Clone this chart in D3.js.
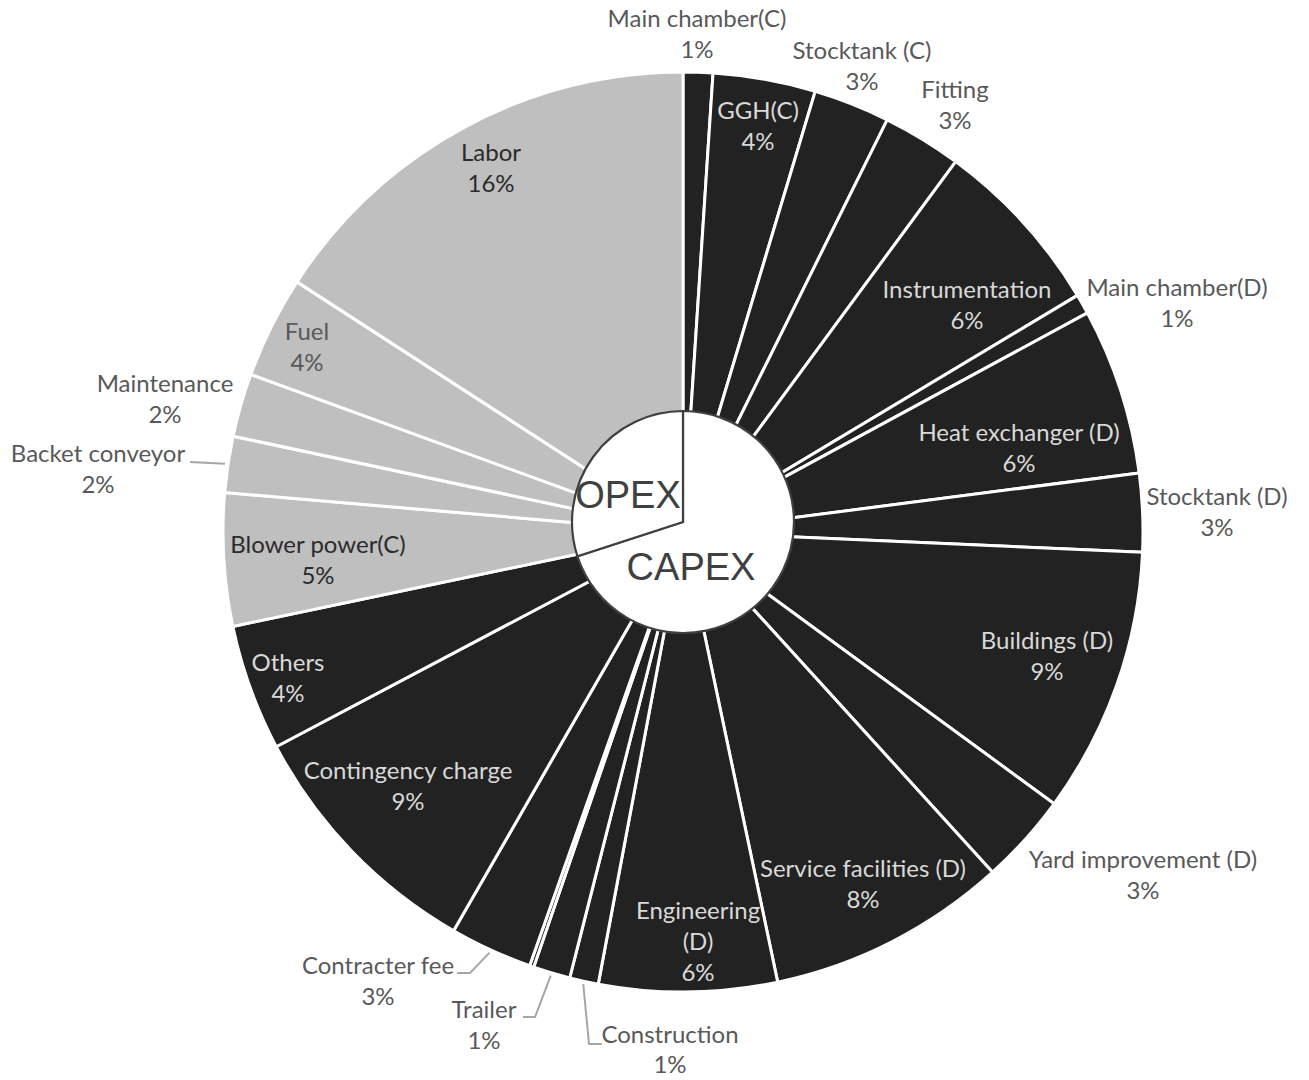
<!DOCTYPE html>
<html>
<head>
<meta charset="utf-8">
<script src="https://cdn.jsdelivr.net/npm/d3@7"></script>
<style>
  html, body { margin: 0; background: #ffffff; }
  svg { display: block; }
</style>
</head>
<body>
<svg id="chart" width="1309" height="1080"></svg>
<script>
// Cost items, clockwise from 12 o'clock (shares in % of total cost)
const categories = [
  "Main chamber(C)", "GGH(C)", "Stocktank (C)", "Fitting", "Instrumentation",
  "Main chamber(D)", "Heat exchanger (D)", "Stocktank (D)", "Buildings (D)",
  "Yard improvement (D)", "Service facilities (D)", "Engineering (D)",
  "Construction", "Trailer", "", "Contracter fee", "Contingency charge", "Others",
  "Blower power(C)", "Backet conveyor", "Maintenance", "Fuel", "Labor"
];
const shares = [
  1.04, 3.6, 2.68, 2.78, 6.3,
  0.7, 5.85, 2.75, 9.36,
  3.19, 8.45, 6.25,
  1.01, 1.3, 0.15, 2.9, 8.96, 4.44,
  4.66, 1.97, 2.22, 3.59, 15.85
];
const costGroups = [
  "CAPEX", "CAPEX", "CAPEX", "CAPEX", "CAPEX",
  "CAPEX", "CAPEX", "CAPEX", "CAPEX",
  "CAPEX", "CAPEX", "CAPEX",
  "CAPEX", "CAPEX", "CAPEX", "CAPEX", "CAPEX", "CAPEX",
  "OPEX", "OPEX", "OPEX", "OPEX", "OPEX"
];

// Inner pie: split between capital and operating expenditure (%)
const groupNames = ["CAPEX", "OPEX"];
const groupShares = [70, 30];

// ---- layout -------------------------------------------------------------
const cx = 683, cy = 532, outerR = 460;      // outer pie
const icx = 683, icy = 522, innerR = 111;    // inner pie
const lineH = 31;

const groupFill = { CAPEX: "#222222", OPEX: "#bfbfbf" };
const toneColor = { inDark: "#d9d9d9", inLight: "#2b2b2b", out: "#595959" };

// label block anchor: centre x and first baseline, relative to the pie centre
const labelLayout = {
  "Main chamber(C)":       { dx: 14,   dy: -505, tone: "out" },
  "GGH(C)":                { dx: 75,   dy: -413, tone: "inDark" },
  "Stocktank (C)":         { dx: 179,  dy: -473, tone: "out" },
  "Fitting":               { dx: 272,  dy: -434, tone: "out" },
  "Instrumentation":       { dx: 284,  dy: -234, tone: "inDark" },
  "Main chamber(D)":       { dx: 494,  dy: -236, tone: "out" },
  "Heat exchanger (D)":    { dx: 336,  dy: -91,  tone: "inDark" },
  "Stocktank (D)":         { dx: 534,  dy: -27,  tone: "out" },
  "Buildings (D)":         { dx: 364,  dy: 117,  tone: "inDark" },
  "Yard improvement (D)":  { dx: 460,  dy: 336,  tone: "out" },
  "Service facilities (D)":{ dx: 180,  dy: 345,  tone: "inDark" },
  "Engineering (D)":       { dx: 15,   dy: 387,  tone: "inDark", lines: ["Engineering", "(D)"] },
  "Construction":          { dx: -13,  dy: 511,  tone: "out", leader: [[-94, 512], [-81, 512]], lineH: 30 },
  "Trailer":               { dx: -199, dy: 486,  tone: "out", leader: [[-148, 485], [-160, 485]] },
  "Contracter fee":        { dx: -305, dy: 442,  tone: "out", leader: [[-213, 441], [-226, 441]] },
  "Contingency charge":    { dx: -275, dy: 247,  tone: "inDark" },
  "Others":                { dx: -395, dy: 139,  tone: "inDark" },
  "Blower power(C)":       { dx: -365, dy: 21,   tone: "inLight" },
  "Backet conveyor":       { dx: -585, dy: -70,  tone: "out", leader: [[-493, -70]] },
  "Maintenance":           { dx: -518, dy: -140, tone: "out" },
  "Fuel":                  { dx: -376, dy: -192, tone: "out" },
  "Labor":                 { dx: -192, dy: -371, tone: "inLight" }
};

const groupLabelLayout = {
  CAPEX: { dx: 8,   dy: 58 },
  OPEX:  { dx: -55, dy: -14 }
};

// ---- data ---------------------------------------------------------------
const items = categories.map((name, i) => ({ name, value: shares[i], group: costGroups[i] }));
const total = d3.sum(shares);
const pct = d3.format(".0%");

const svg = d3.select("#chart");

const pie = d3.pie().sort(null).value(d => d.value).startAngle(0).endAngle(2 * Math.PI);
const arcs = pie(items);
const arc = d3.arc().innerRadius(0).outerRadius(outerR);

// ---- outer pie ----------------------------------------------------------
const outer = svg.append("g").attr("transform", `translate(${cx},${cy})`);
outer.selectAll("path.slice")
  .data(arcs)
  .join("path")
  .attr("class", "slice")
  .attr("d", arc)
  .attr("fill", d => groupFill[d.data.group])
  .attr("stroke", "#ffffff")
  .attr("stroke-width", 3)
  .attr("stroke-linejoin", "round");

// leader lines from the slice rim to the label
const rimPoint = (a, r) => [Math.sin(a) * r, -Math.cos(a) * r];
const leaders = arcs.filter(d => labelLayout[d.data.name] && labelLayout[d.data.name].leader);
outer.selectAll("path.leader")
  .data(leaders)
  .join("path")
  .attr("class", "leader")
  .attr("d", d => {
    const mid = (d.startAngle + d.endAngle) / 2;
    return d3.line()([rimPoint(mid, outerR + 3), ...labelLayout[d.data.name].leader]);
  })
  .attr("fill", "none")
  .attr("stroke", "#a6a6a6")
  .attr("stroke-width", 2);

// slice labels: name + share
const labelled = arcs.filter(d => labelLayout[d.data.name]);
const labels = outer.selectAll("text.label")
  .data(labelled)
  .join("text")
  .attr("class", "label")
  .attr("text-anchor", "middle")
  .attr("font-family", "Lato, 'Open Sans', sans-serif")
  .attr("font-size", 24)
  .attr("fill", d => toneColor[labelLayout[d.data.name].tone]);

labels.each(function(d) {
  const L = labelLayout[d.data.name];
  const step = L.lineH || lineH;
  const lines = (L.lines || [d.data.name]).concat([pct(d.data.value / total)]);
  d3.select(this).selectAll("tspan")
    .data(lines)
    .join("tspan")
    .attr("x", L.dx)
    .attr("y", (t, i) => L.dy + i * step)
    .text(t => t);
});

// ---- inner pie (CAPEX / OPEX) --------------------------------------------
const groupArcs = d3.pie().sort(null).startAngle(0).endAngle(2 * Math.PI)(groupShares);
const innerArc = d3.arc().innerRadius(0).outerRadius(innerR);
const inner = svg.append("g").attr("transform", `translate(${icx},${icy})`);
inner.selectAll("path")
  .data(groupArcs)
  .join("path")
  .attr("d", innerArc)
  .attr("fill", "#ffffff")
  .attr("stroke", "#404040")
  .attr("stroke-width", 2.2)
  .attr("stroke-linejoin", "miter");

inner.selectAll("text")
  .data(groupArcs)
  .join("text")
  .attr("x", (d, i) => groupLabelLayout[groupNames[i]].dx)
  .attr("y", (d, i) => groupLabelLayout[groupNames[i]].dy)
  .attr("text-anchor", "middle")
  .attr("font-family", "'Liberation Sans', Arial, sans-serif")
  .attr("font-size", 38)
  .attr("fill", "#404040")
  .text((d, i) => groupNames[i]);
</script>
</body>
</html>
